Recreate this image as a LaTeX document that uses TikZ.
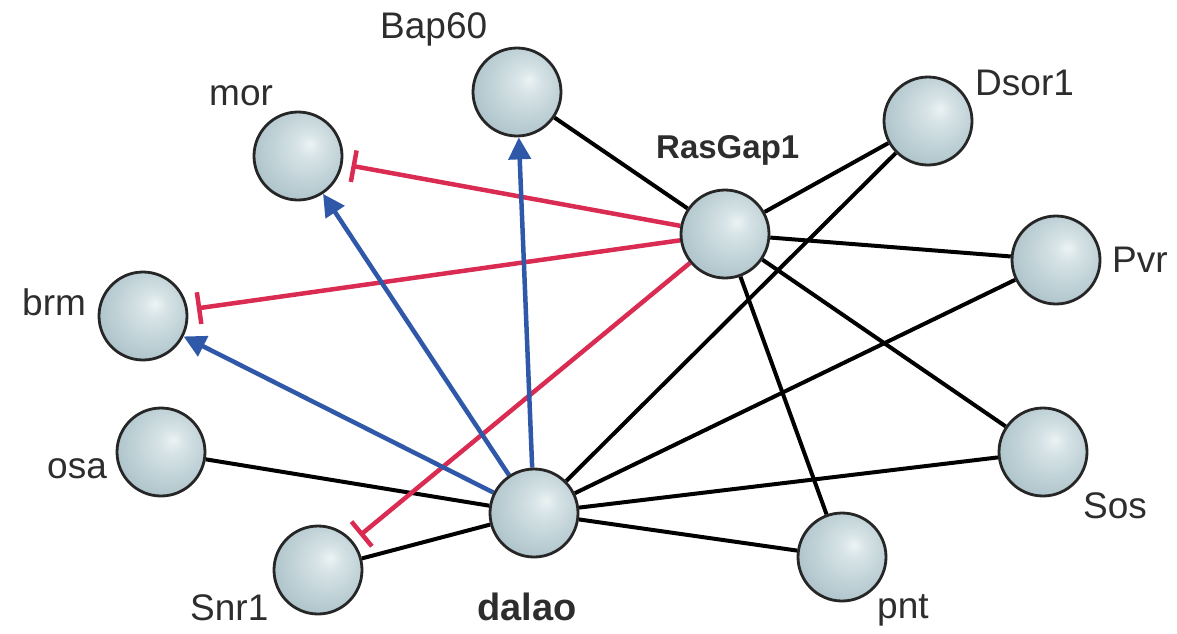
\documentclass[tikz,border=0pt]{standalone}
\usepackage{fontspec}
\setmainfont{Liberation Sans}
\usetikzlibrary{arrows.meta,backgrounds}
\definecolor{inhib}{RGB}{218,44,82}
\definecolor{activ}{RGB}{48,88,168}
\definecolor{ballout}{RGB}{146,170,178}
\definecolor{ballmid}{RGB}{184,204,210}
\definecolor{ballhi}{RGB}{236,243,244}
\definecolor{lbltext}{RGB}{45,45,45}
% soft sphere shading, highlight a little up and to the right
\pgfdeclareradialshading{sphere}{\pgfpoint{7bp}{7bp}}{%
  color(0bp)=(ballhi); color(7bp)=(ballhi!60!ballmid);
  color(24bp)=(ballmid); color(48bp)=(ballout); color(60bp)=(ballout)}
\tikzset{
  gene/.style={circle, draw=black!85, line width=2.8pt, minimum size=88pt,
    inner sep=0pt, shading=sphere},
  lbl/.style={font=\fontsize{37}{40}\selectfont, text=lbltext, inner sep=0pt,
    anchor=base west},
  link/.style={line width=4pt, black},
  act/.style={line width=4.5pt, activ, -{Triangle[length=22pt,width=22pt]}},
  inh/.style={line width=4.5pt, inhib, -{Bar[width=32pt,line width=4.5pt]},
    shorten >=9pt},
}
\begin{document}
\begin{tikzpicture}[x=1pt, y=-1pt]
\useasboundingbox (0,0) rectangle (1177,633);
% genes
\node[gene] (mor)   at (298,156) {};
\node[gene] (bap)   at (517,92)  {};
\node[gene] (dsor)  at (928,121) {};
\node[gene] (ras)   at (725,234) {};
\node[gene] (pvr)   at (1056,260) {};
\node[gene] (brm)   at (143,316) {};
\node[gene] (osa)   at (161,452) {};
\node[gene] (sos)   at (1043,452) {};
\node[gene] (dalao) at (534,513) {};
\node[gene] (snr)   at (318,570) {};
\node[gene] (pnt)   at (842,557) {};
% names
\node[lbl] (tmor)   at (209,105) {mor};
\node[lbl] (tbap)   at (380,38)  {Bap60};
\node[lbl] (tdsor)  at (975,95)  {Dsor1};
\node[lbl, font=\fontsize{33}{40}\selectfont\bfseries] (tras) at (656,158) {RasGap1};
\node[lbl] (tpvr)   at (1112,272) {Pvr};
\node[lbl] (tbrm)   at (22,315)  {brm};
\node[lbl] (tosa)   at (47,478)  {osa};
\node[lbl] (tsos)   at (1083,518) {Sos};
\node[lbl] (tpnt)   at (877,618) {pnt};
\node[lbl] (tsnr)   at (190,620) {Snr1};
\node[lbl, font=\fontsize{38}{40}\selectfont\bfseries] (tdal) at (477,620) {dalao};
% interactions behind the spheres
\begin{scope}[on background layer]
  \draw[link] (ras) -- (bap);
  \draw[link] (ras) -- (dsor);
  \draw[link] (ras) -- (pvr);
  \draw[link] (ras) -- (sos);
  \draw[link] (ras) -- (pnt);
  \draw[link] (dalao) -- (osa);
  \draw[link] (dalao) -- (snr);
  \draw[link] (dalao) -- (dsor);
  \draw[link] (dalao) -- (pvr);
  \draw[link] (dalao) -- (sos);
  \draw[link] (dalao) -- (pnt);
  \draw[inh] (ras) -- (mor);
  \draw[inh] (ras) -- (brm);
  \draw[inh] (ras) -- (snr);
  \draw[act] (dalao) -- (bap);
  \draw[act] (dalao) -- (mor);
  \draw[act] (dalao) -- (brm);
\end{scope}
\end{tikzpicture}
\end{document}
